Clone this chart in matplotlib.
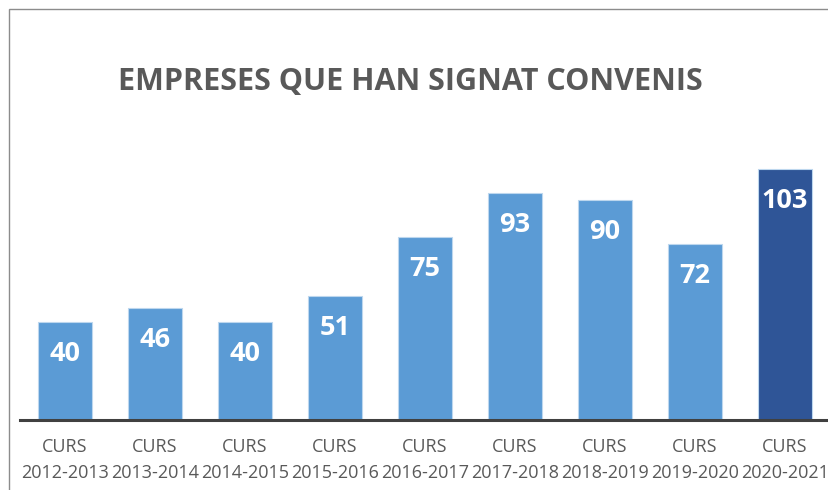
import matplotlib.pyplot as plt
from matplotlib.patches import Rectangle

# chart data
cursos = ['2012-2013', '2013-2014', '2014-2015', '2015-2016', '2016-2017',
          '2017-2018', '2018-2019', '2019-2020', '2020-2021']
empreses = [40, 46, 40, 51, 75, 93, 90, 72, 103]

light = '#5B9BD5'
dark = '#2F5597'
grey = '#595959'

plt.rcParams['font.family'] = ['Open Sans', 'DejaVu Sans']

fig = plt.figure(figsize=(8.29, 4.90), dpi=100)
ax = fig.add_axes([20 / 829, 70 / 490, 810 / 829, 300 / 490])

colors = [light] * (len(empreses) - 1) + [dark]
x = list(range(len(cursos)))
bars = ax.bar(x, empreses, width=0.6, color=colors, edgecolor='#BDD7EE', linewidth=0.8, zorder=2)

# value labels inside the bars
for rect, val in zip(bars, empreses):
    ax.annotate(str(val), (rect.get_x() + rect.get_width() / 2, rect.get_height()),
                xytext=(0, -32), textcoords='offset pixels',
                ha='center', va='center', color='white', fontsize=19.5, fontweight='bold')

ax.set_xlim(-0.5, len(cursos) - 0.5)
ax.set_ylim(0, 300 / 2.44)
ax.set_xticks(x)
ax.set_xticklabels(['CURS\n' + c for c in cursos], color=grey, fontsize=13, linespacing=1.55)
ax.tick_params(axis='x', length=0, pad=13)
ax.set_yticks([])
for s in ['top', 'right', 'left']:
    ax.spines[s].set_visible(False)
ax.spines['bottom'].set_color('#404040')
ax.spines['bottom'].set_linewidth(2.2)

fig.text(410 / 829, 1 - 82 / 490, 'EMPRESES QUE HAN SIGNAT CONVENIS', ha='center', va='center',
         color=grey, fontsize=22, fontweight='bold')

# outer frame (cropped on the right and bottom)
fig.patches.append(Rectangle((9 / 829, -0.1), 1.1, 1.1 - 9 / 490, transform=fig.transFigure,
                             fill=False, edgecolor='#8C8C8C', linewidth=1.0))

fig.savefig('out.png', dpi=100)
